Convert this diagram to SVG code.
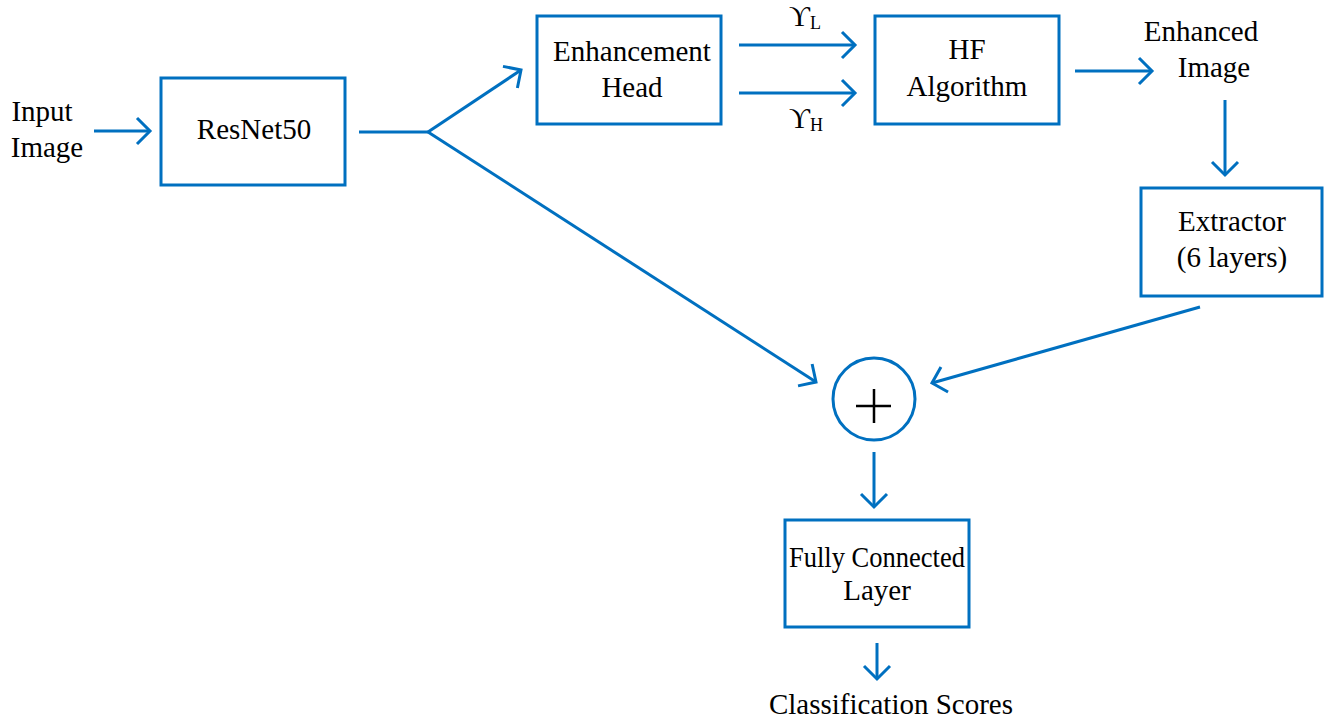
<svg xmlns="http://www.w3.org/2000/svg" width="1333" height="725" viewBox="0 0 1333 725">
<defs>
<style>
.box{fill:#fff;stroke:#0070C0;stroke-width:3}
.ln{fill:none;stroke:#0070C0;stroke-width:3}
.t{font-family:"Liberation Serif","Times New Roman",serif;font-size:29px;fill:#000;text-anchor:middle}
.s{font-family:"Liberation Serif","Times New Roman",serif;fill:#000}
</style>
<marker id="ah" markerUnits="userSpaceOnUse" markerWidth="34" markerHeight="34" viewBox="-17 -17 34 34" refX="0" refY="0" orient="auto" overflow="visible">
<path d="M-13,-13 L0,0 L-13,13" fill="none" stroke="#0070C0" stroke-width="3"/>
</marker>
</defs>
<rect width="1333" height="725" fill="#fff"/>
<g id="connectors">
<line class="ln" x1="94" y1="131" x2="150" y2="131" marker-end="url(#ah)"/>
<line class="ln" x1="359" y1="132" x2="428" y2="132"/>
<line class="ln" x1="428" y1="132" x2="521" y2="70" marker-end="url(#ah)"/>
<line class="ln" x1="428" y1="132" x2="816" y2="382" marker-end="url(#ah)"/>
<line class="ln" x1="739" y1="45" x2="855" y2="45" marker-end="url(#ah)"/>
<line class="ln" x1="739" y1="93" x2="855" y2="93" marker-end="url(#ah)"/>
<line class="ln" x1="1075" y1="71" x2="1152" y2="71" marker-end="url(#ah)"/>
<line class="ln" x1="1225" y1="100" x2="1225" y2="175" marker-end="url(#ah)"/>
<line class="ln" x1="1200" y1="307" x2="932" y2="383" marker-end="url(#ah)"/>
<line class="ln" x1="874" y1="452" x2="874" y2="507" marker-end="url(#ah)"/>
<line class="ln" x1="877" y1="643" x2="877" y2="679" marker-end="url(#ah)"/>
</g>
<g id="input-label">
<text class="t" x="42" y="121">Input</text>
<text class="t" x="47" y="157">Image</text>
</g>
<g id="resnet50">
<rect class="box" x="161" y="78" width="184" height="107"/>
<text class="t" x="254" y="139">ResNet50</text>
</g>
<g id="enhancement-head">
<rect class="box" x="537" y="16" width="184" height="108"/>
<text class="t" x="632" y="61">Enhancement</text>
<text class="t" x="632" y="97">Head</text>
</g>
<g id="gamma-labels">
<text class="s" x="789" y="26" font-size="29">ϒ<tspan font-size="18" dy="3">L</tspan></text>
<text class="s" x="789" y="128" font-size="29">ϒ<tspan font-size="18" dy="3">H</tspan></text>
</g>
<g id="hf-algorithm">
<rect class="box" x="875" y="16" width="184" height="108"/>
<text class="t" x="967" y="59">HF</text>
<text class="t" x="967" y="96">Algorithm</text>
</g>
<g id="enhanced-image">
<text class="t" x="1201" y="41">Enhanced</text>
<text class="t" x="1214" y="77">Image</text>
</g>
<g id="extractor">
<rect class="box" x="1141" y="188" width="181" height="108"/>
<text class="t" x="1232" y="231">Extractor</text>
<text class="t" x="1232" y="267">(6 layers)</text>
</g>
<g id="sum">
<circle cx="874" cy="399" r="41" fill="#fff" stroke="#0070C0" stroke-width="3"/>
<path d="M856,406 H891 M874,389 V423" stroke="#000" stroke-width="2.5" fill="none"/>
</g>
<g id="fully-connected">
<rect class="box" x="785" y="520" width="184" height="107"/>
<text class="t" x="877" y="567" font-size="27" textLength="176" lengthAdjust="spacingAndGlyphs">Fully Connected</text>
<text class="t" x="877" y="600" font-size="27">Layer</text>
</g>
<g id="classification-scores">
<text class="t" x="891" y="714">Classification Scores</text>
</g>
</svg>
